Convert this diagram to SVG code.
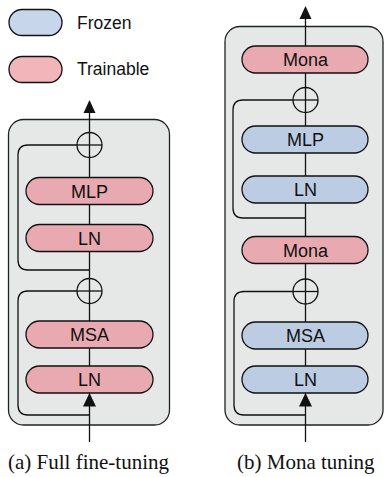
<svg xmlns="http://www.w3.org/2000/svg" width="385" height="477" viewBox="0 0 385 477">
<defs>
<style>
.panel{fill:#e6e7e7;stroke:#222;stroke-width:1.3}
.fz{fill:#bccce3;stroke:#111;stroke-width:1.3}
.tr{fill:#e8aab0;stroke:#111;stroke-width:1.3}
.lfz{fill:#c7d6ea;stroke:#111;stroke-width:1.3}
.ltr{fill:#f2b6ba;stroke:#111;stroke-width:1.3}
.lbl{font-family:"Liberation Sans",Arial,sans-serif;font-size:18px;fill:#111;text-anchor:middle}
.leg{font-family:"Liberation Sans",Arial,sans-serif;font-size:17.5px;fill:#111}
.cap{font-family:"Liberation Serif","Times New Roman",serif;font-size:21px;fill:#111;text-anchor:middle}
.ln{fill:none;stroke:#111;stroke-width:1.3}
.head{fill:#111}
</style>
</defs>
<g id="legend">
<g id="legend-frozen"><rect class="lfz" x="9" y="9.5" width="53" height="26" rx="13"/><text class="leg" x="77" y="28.5">Frozen</text></g>
<g id="legend-trainable"><rect class="ltr" x="9" y="56.5" width="53" height="26" rx="13"/><text class="leg" x="77" y="75">Trainable</text></g>
</g>
<g id="panel-a"><rect class="panel" x="8.5" y="119.5" width="161" height="305.5" rx="15"/></g>
<g id="panel-b"><rect class="panel" x="225" y="26.5" width="158" height="398.5" rx="15"/></g>
<g id="connectors">
<line class="ln" x1="89.5" y1="442" x2="89.5" y2="110"/>
<polygon class="head" points="89.5,100 83.5,113 95.5,113"/>
<polygon class="head" points="89.5,393 83,406.5 96,406.5"/>
<path class="ln" d="M77,145 H28 Q18,145 18,155 V260 Q18,270 28,270 H89.5"/>
<path class="ln" d="M77,291 H28 Q18,291 18,301 V405 Q18,415 28,415 H89.5"/>
<line class="ln" x1="305.5" y1="442" x2="305.5" y2="16"/>
<polygon class="head" points="305.5,6 299.5,19 311.5,19"/>
<polygon class="head" points="305.5,393 299,406.5 312,406.5"/>
<path class="ln" d="M293,100 H243 Q233,100 233,110 V208 Q233,218 243,218 H305.5"/>
<path class="ln" d="M293,291.5 H244 Q234,291.5 234,301.5 V405 Q234,415 244,415 H305.5"/>
</g>
<g id="a-add2"><circle class="ln" cx="89.5" cy="145" r="12.5"/><line class="ln" x1="77" y1="145" x2="102" y2="145"/></g>
<g id="a-mlp"><rect class="tr" x="26" y="177.5" width="127" height="27" rx="13.5"/><text class="lbl" x="89.5" y="197.5">MLP</text></g>
<g id="a-ln2"><rect class="tr" x="26" y="224.5" width="127" height="27" rx="13.5"/><text class="lbl" x="89.5" y="244.5">LN</text></g>
<g id="a-add1"><circle class="ln" cx="89.5" cy="291" r="12.5"/><line class="ln" x1="77" y1="291" x2="102" y2="291"/></g>
<g id="a-msa"><rect class="tr" x="26" y="321" width="127" height="27" rx="13.5"/><text class="lbl" x="89.5" y="341">MSA</text></g>
<g id="a-ln1"><rect class="tr" x="26" y="366" width="127" height="27" rx="13.5"/><text class="lbl" x="89.5" y="386">LN</text></g>
<g id="b-mona2"><rect class="tr" x="242" y="46" width="126" height="27" rx="13.5"/><text class="lbl" x="305.5" y="66">Mona</text></g>
<g id="b-add2"><circle class="ln" cx="305.5" cy="100" r="12.5"/><line class="ln" x1="293" y1="100" x2="318" y2="100"/></g>
<g id="b-mlp"><rect class="fz" x="242" y="126" width="126" height="27" rx="13.5"/><text class="lbl" x="305.5" y="146">MLP</text></g>
<g id="b-ln2"><rect class="fz" x="242" y="176" width="126" height="27" rx="13.5"/><text class="lbl" x="305.5" y="196">LN</text></g>
<g id="b-mona1"><rect class="tr" x="242" y="236.5" width="126" height="27" rx="13.5"/><text class="lbl" x="305.5" y="256.5">Mona</text></g>
<g id="b-add1"><circle class="ln" cx="305.5" cy="291.5" r="12.5"/><line class="ln" x1="293" y1="291.5" x2="318" y2="291.5"/></g>
<g id="b-msa"><rect class="fz" x="242" y="322" width="126" height="27" rx="13.5"/><text class="lbl" x="305.5" y="342">MSA</text></g>
<g id="b-ln1"><rect class="fz" x="242" y="366" width="126" height="27" rx="13.5"/><text class="lbl" x="305.5" y="386">LN</text></g>
<g id="captions">
<text class="cap" x="88.5" y="469">(a) Full fine-tuning</text>
<text class="cap" x="305.8" y="469">(b) Mona tuning</text>
</g>
</svg>
